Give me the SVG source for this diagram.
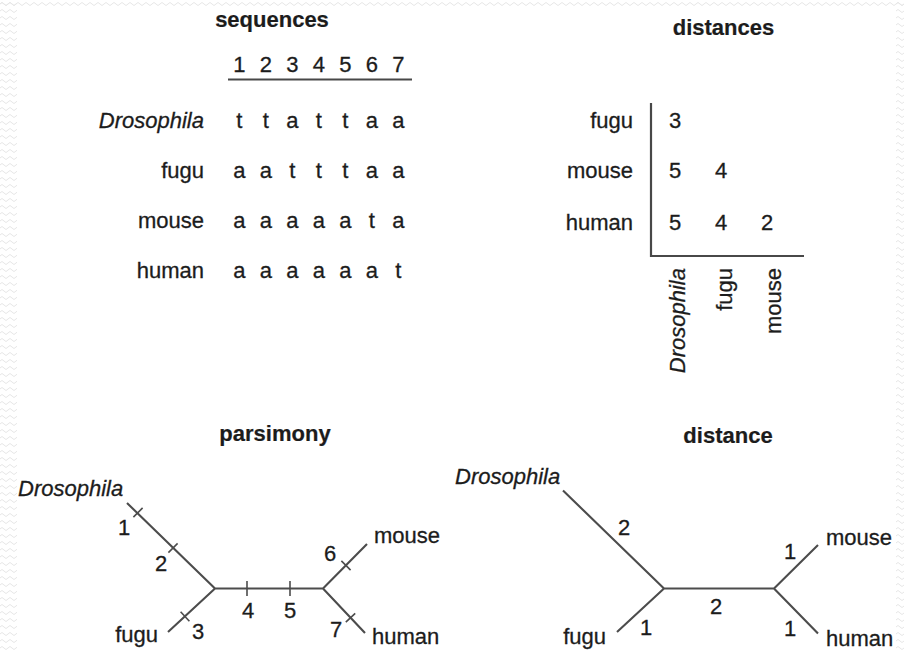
<svg xmlns="http://www.w3.org/2000/svg" width="904" height="650" viewBox="0 0 904 650">
  <style>
    text { font-family: "Liberation Sans", Arial, Helvetica, sans-serif; font-size: 22px; fill: #1c1c1c; stroke: #1c1c1c; stroke-width: 0.3; }
    .title { font-weight: bold; text-anchor: middle; stroke-width: 0.2; }
    .it { font-style: italic; }
    .r { text-anchor: end; }
    .m { text-anchor: middle; }
    .branch { stroke: #4c4c4c; stroke-width: 2.1; fill: none; stroke-linecap: butt; }
    .tick { stroke: #4c4c4c; stroke-width: 1.6; fill: none; }
    .axis { stroke: #484848; stroke-width: 2.2; fill: none; }
  </style>
  <defs>
    <pattern id="weave" width="8" height="7" patternUnits="userSpaceOnUse">
      <path d="M0 4 Q2 1 4 4 T8 4" fill="none" stroke="#e6e6e6" stroke-width="1"/>
    </pattern>
  </defs>

  <!-- paper -->
  <rect x="0" y="0" width="904" height="650" fill="#ffffff"/>
  <rect x="0" y="0" width="17" height="650" fill="url(#weave)"/>
  <rect x="0" y="0" width="904" height="6" fill="url(#weave)"/>
  <rect x="896" y="0" width="8" height="650" fill="url(#weave)"/>

  <!-- sequence alignment -->
  <g id="sequences">
    <text class="title" x="272" y="27">sequences</text>
    <g class="m">
      <text x="239.3" y="72">1</text>
      <text x="265.8" y="72">2</text>
      <text x="292.3" y="72">3</text>
      <text x="318.8" y="72">4</text>
      <text x="345.3" y="72">5</text>
      <text x="371.8" y="72">6</text>
      <text x="398.3" y="72">7</text>
    </g>
    <line class="axis" x1="228" y1="79.5" x2="412" y2="79.5"/>
    <text class="r it" x="204" y="128">Drosophila</text>
    <text class="r" x="204" y="177.5">fugu</text>
    <text class="r" x="204" y="227.5">mouse</text>
    <text class="r" x="204" y="278">human</text>
    <g class="m">
      <text x="239.3" y="128">t</text><text x="265.8" y="128">t</text><text x="292.3" y="128">a</text><text x="318.8" y="128">t</text><text x="345.3" y="128">t</text><text x="371.8" y="128">a</text><text x="398.3" y="128">a</text>
      <text x="239.3" y="177.5">a</text><text x="265.8" y="177.5">a</text><text x="292.3" y="177.5">t</text><text x="318.8" y="177.5">t</text><text x="345.3" y="177.5">t</text><text x="371.8" y="177.5">a</text><text x="398.3" y="177.5">a</text>
      <text x="239.3" y="227.5">a</text><text x="265.8" y="227.5">a</text><text x="292.3" y="227.5">a</text><text x="318.8" y="227.5">a</text><text x="345.3" y="227.5">a</text><text x="371.8" y="227.5">t</text><text x="398.3" y="227.5">a</text>
      <text x="239.3" y="278">a</text><text x="265.8" y="278">a</text><text x="292.3" y="278">a</text><text x="318.8" y="278">a</text><text x="345.3" y="278">a</text><text x="371.8" y="278">a</text><text x="398.3" y="278">t</text>
    </g>
  </g>

  <!-- pairwise distance matrix -->
  <g id="distances">
    <text class="title" x="723.5" y="35">distances</text>
    <path class="axis" d="M651 103 V256 H804"/>
    <text class="r" x="633" y="128">fugu</text>
    <text class="r" x="633" y="178">mouse</text>
    <text class="r" x="633" y="229.5">human</text>
    <g class="m">
      <text x="675" y="128">3</text>
      <text x="675" y="178">5</text><text x="721" y="178">4</text>
      <text x="675" y="229.5">5</text><text x="721" y="229.5">4</text><text x="767" y="229.5">2</text>
    </g>
    <text class="r it" transform="translate(684.5 268) rotate(-90)">Drosophila</text>
    <text class="r" transform="translate(731.5 268) rotate(-90)">fugu</text>
    <text class="r" transform="translate(781 268) rotate(-90)">mouse</text>
  </g>

  <!-- parsimony tree -->
  <g id="parsimony">
    <text class="title" x="275" y="441">parsimony</text>
  </g>
  <g id="p-drosophila"><text class="it" x="18" y="496">Drosophila</text></g>
  <g id="p-fugu"><text class="r" x="158" y="642">fugu</text></g>
  <g id="p-mouse"><text x="374" y="543">mouse</text></g>
  <g id="p-human"><text x="372" y="644">human</text></g>

  <!-- distance tree -->
  <g id="distance">
    <text class="title" x="728" y="443">distance</text>
  </g>
  <g id="d-drosophila"><text class="it" x="455" y="484">Drosophila</text></g>
  <g id="d-fugu"><text class="r" x="606" y="644">fugu</text></g>
  <g id="d-mouse"><text x="826" y="545">mouse</text></g>
  <g id="d-human"><text x="826" y="646">human</text></g>

  <!-- branches with change marks and lengths -->
  <g id="connectors">
    <g id="parsimony-branches">
      <path class="branch" d="M127 503 L215 588.5 L168 632 M215 588.5 H323 M367 544 L323 588.5 L365 633"/>
      <line class="tick" x1="133.4" y1="517.1" x2="142.6" y2="507.9"/>
      <line class="tick" x1="168.4" y1="552.6" x2="177.6" y2="543.4"/>
      <line class="tick" x1="180.6" y1="611.7" x2="189.4" y2="621.3"/>
      <line class="tick" x1="247" y1="581" x2="247" y2="596"/>
      <line class="tick" x1="290" y1="581" x2="290" y2="596"/>
      <line class="tick" x1="341.4" y1="560.9" x2="350.6" y2="570.1"/>
      <line class="tick" x1="345.8" y1="622.2" x2="355.2" y2="613.4"/>
      <g class="m">
        <text x="124" y="535">1</text>
        <text x="161" y="571">2</text>
        <text x="198" y="639">3</text>
        <text x="248" y="618">4</text>
        <text x="290" y="618">5</text>
        <text x="330" y="561">6</text>
        <text x="336" y="637">7</text>
      </g>
    </g>
    <g id="distance-branches">
      <path class="branch" d="M563 490.5 L664 588.5 L617 632 M664 588.5 H774 M818 545 L774 588.5 L818 633.5"/>
      <g class="m">
        <text x="624" y="535">2</text>
        <text x="646" y="635">1</text>
        <text x="716" y="614">2</text>
        <text x="790" y="559">1</text>
        <text x="790" y="636">1</text>
      </g>
    </g>
  </g>
</svg>
